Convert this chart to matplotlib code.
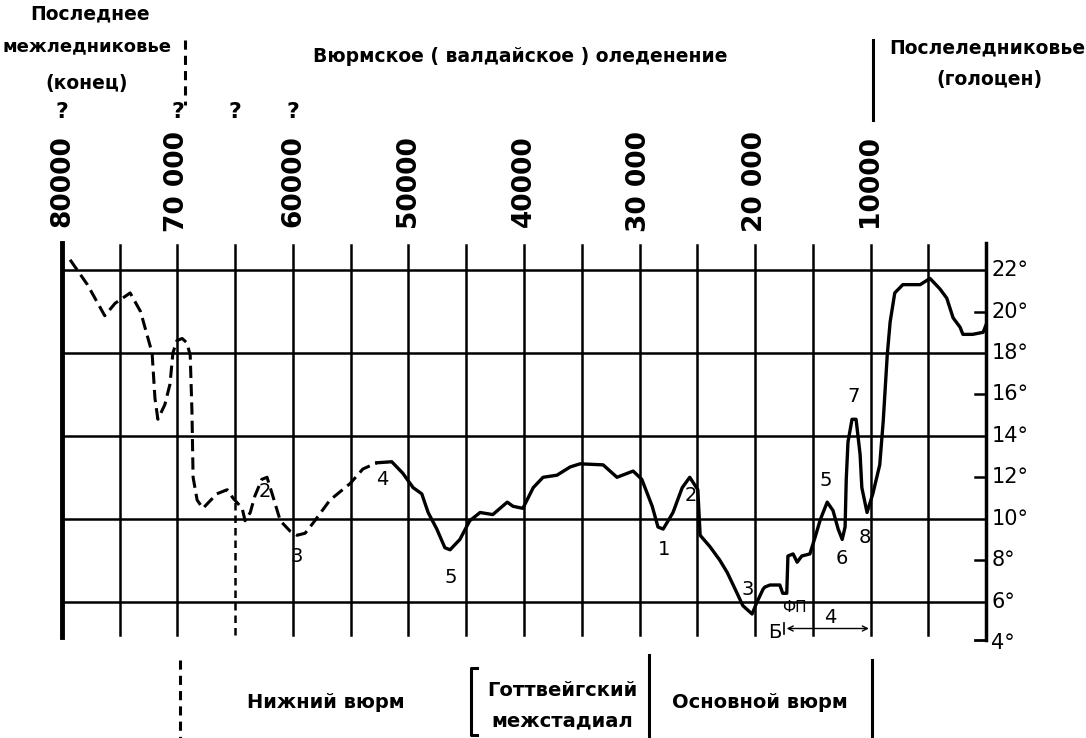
import matplotlib
matplotlib.use('Agg')
import matplotlib.pyplot as plt
from matplotlib.lines import Line2D
from matplotlib.transforms import blended_transform_factory

# years before present / temperature, °C
dashed_age = [79300, 77800, 76300, 75400, 74100, 73200, 72200, 71950, 71700, 71100,
              70650, 70400, 70050, 69600, 69200, 68900, 68750, 68650, 68300, 67800,
              66600, 65700, 65200, 64400, 64150, 63700, 63300, 62700, 62250, 61750,
              61100, 60250, 59650, 58950, 58250, 56800, 55050, 53950, 52750]
dashed_temp = [22.5, 21.3, 19.8, 20.4, 20.9, 20.0, 18.0, 15.8, 14.8, 15.5,
               16.5, 18.0, 18.6, 18.7, 18.5, 17.9, 15.2, 12.0, 10.9, 10.5,
               11.2, 11.4, 11.0, 10.5, 9.9, 10.3, 11.1, 11.9, 12.0, 11.1,
               9.9, 9.4, 9.2, 9.3, 9.8, 10.9, 11.7, 12.4, 12.7]

solid_age = [52750, 51450, 50500, 49600, 48850, 48300, 47550, 46850, 46400, 45550,
             44700, 43800, 42700, 41450, 40950, 40100, 39200, 38350, 37150, 36000,
             35150, 33150, 31950, 30550, 29800, 28900, 28400, 27950, 27100, 26300,
             25650, 24950, 24750, 23900, 23050, 22400, 21550, 21050, 20250, 19850,
             19300, 19150, 18700, 17850, 17600, 17250, 17150, 16700, 16350, 15950,
             15250, 14800, 14350, 13750, 13250, 12800, 12450, 12200, 12100, 11950,
             11600, 11250, 10900, 10750, 10300, 9800, 9200, 8900, 8550, 8300,
             7900, 7200, 5700, 4850, 4000, 3400, 2850, 2250, 2000, 1150,
             250, 0]
solid_temp = [12.7, 12.75, 12.2, 11.5, 11.2, 10.3, 9.5, 8.6, 8.5, 9.0,
              9.9, 10.3, 10.2, 10.8, 10.6, 10.5, 11.5, 12.0, 12.1, 12.5,
              12.65, 12.6, 12.0, 12.3, 11.9, 10.6, 9.6, 9.5, 10.3, 11.5,
              12.0, 11.4, 9.2, 8.65, 8.0, 7.4, 6.4, 5.8, 5.4, 5.95,
              6.6, 6.7, 6.8, 6.8, 6.4, 6.4, 8.2, 8.3, 7.9, 8.2,
              8.3, 9.1, 9.95, 10.8, 10.4, 9.5, 9.0, 9.6, 11.9, 13.7,
              14.8, 14.8, 13.1, 11.5, 10.3, 11.2, 12.6, 14.7, 17.9, 19.5,
              20.9, 21.3, 21.3, 21.6, 21.1, 20.65, 19.7, 19.25, 18.9, 18.9,
              19.0, 19.35]

age_ticks = [80000, 70000, 60000, 50000, 40000, 30000, 20000, 10000]
age_labels = ['80000', '70 000', '60000', '50000', '40000', '30 000', '20 000', '10000']
temp_labels = [22, 20, 18, 16, 14, 12, 10, 8, 6, 4]
grid_temps = [22, 18, 14, 10, 6]
question_ages = [80000, 70000, 65000, 60000]

# peak / trough numbers: (age, temp, text)
marks = [(62400, 11.3, '2'), (59650, 8.2, '3'), (52300, 11.9, '4'), (46300, 7.15, '5'),
         (27900, 8.5, '1'), (25600, 11.1, '2'), (20600, 6.6, '3'), (13850, 11.85, '5'),
         (12450, 8.1, '6'), (11430, 15.9, '7'), (10480, 9.1, '8'),
         (16550, 5.7, 'ФП'), (13500, 5.25, '4'), (18300, 4.5, 'Б')]

W, H = 1086, 738
fig = plt.figure(figsize=(W / 100, H / 100), dpi=100)
ax = fig.add_axes([62 / W, (H - 643) / H, 924 / W, 406 / H])
ax.set_xlim(80000, 0)
ax.set_ylim(4, 23.6)
ax.axis('off')


def fx(x):
    return x / W


def fy(y):
    return 1 - y / H


def fig_line(xs, ys, **kw):
    fig.add_artist(Line2D([fx(v) for v in xs], [fy(v) for v in ys],
                          transform=fig.transFigure, color='k', **kw))


# grid
for a in range(75000, 0, -5000):
    if a == 65000:
        ax.plot([a, a], [11.0, 23.2], color='k', lw=1.8)
        ax.plot([a, a], [4.4, 11.0], color='k', lw=1.8, ls=(0, (3, 2)))
    else:
        ax.plot([a, a], [4.4, 23.2], color='k', lw=1.8)
ax.hlines(grid_temps, 80000, 0, color='k', lw=1.8)
ax.plot([80000, 80000], [4.3, 23.3], color='k', lw=3.5, clip_on=False)
ax.plot([0, 0], [4.15, 23.3], color='k', lw=2.5, clip_on=False)
ax.plot([0, 950], [4.15, 4.15], color='k', lw=2.0, clip_on=False)
for t in [20, 16, 12, 8]:
    ax.plot([0, 950], [t, t], color='k', lw=1.8)

# curve
ax.plot(dashed_age, dashed_temp, color='k', lw=2.2, ls=(0, (4, 2)),
        solid_capstyle='round', clip_on=False)
ax.plot(solid_age, solid_temp, color='k', lw=2.4, solid_joinstyle='round',
        clip_on=False)

for a, t, s in marks:
    ax.text(a, t, s, ha='center', va='center', fontsize=14 if len(s) == 1 else 11)
ax.annotate('', xy=(9900, 4.7), xytext=(17500, 4.7),
            arrowprops=dict(arrowstyle='<->', lw=1.0, color='k', mutation_scale=9))
ax.plot([17500, 17500], [4.45, 4.95], color='k', lw=1.2)

# right temperature scale
for t in temp_labels:
    ax.text(-450, t, f'{t}°', ha='left', va='center', fontsize=15, clip_on=False)

# age labels above the grid
trans = blended_transform_factory(ax.transData, fig.transFigure)
for a, s in zip(age_ticks, age_labels):
    ax.text(a, fy(181), s, rotation=90, ha='center', va='center', transform=trans,
            fontsize=19, fontweight='bold')
for a in question_ages:
    ax.text(a, fy(112), '?', ha='center', va='center', transform=trans,
            fontsize=16, fontweight='bold')

# period headings
fs = 13.5
fig.text(fx(90), fy(14), 'Последнее', ha='center', va='center', fontsize=fs, fontweight='bold')
fig.text(fx(3), fy(46), 'межледниковье', ha='left', va='center', fontsize=13, fontweight='bold')
fig.text(fx(87), fy(84), '(конец)', ha='center', va='center', fontsize=fs, fontweight='bold')
fig.text(fx(520), fy(57), 'Вюрмское ( валдайское ) оледенение', ha='center', va='center',
         fontsize=fs, fontweight='bold')
fig.text(fx(987), fy(48), 'Послеледниковье', ha='center', va='center', fontsize=fs, fontweight='bold')
fig.text(fx(989), fy(80), '(голоцен)', ha='center', va='center', fontsize=fs, fontweight='bold')
fig_line([185, 185], [40, 105], lw=2.2, ls=(0, (3, 2)))
fig_line([873, 873], [40, 120], lw=2.2)

# bottom stages
fig_line([180, 180], [660, 738], lw=2.2, ls=(0, (3, 2)))
fig_line([477, 471, 471, 477], [668, 668, 735, 735], lw=2.2)
fig_line([649, 649], [655, 738], lw=2.2)
fig_line([872, 872], [660, 738], lw=2.2)
fs = 14
fig.text(fx(326), fy(702), 'Нижний вюрм', ha='center', va='center', fontsize=fs, fontweight='bold')
fig.text(fx(562), fy(690), 'Готтвейгский', ha='center', va='center', fontsize=fs, fontweight='bold')
fig.text(fx(562), fy(721), 'межстадиал', ha='center', va='center', fontsize=fs, fontweight='bold')
fig.text(fx(760), fy(703), 'Основной вюрм', ha='center', va='center', fontsize=fs, fontweight='bold')

fig.savefig('out.png', dpi=100, facecolor='white')
